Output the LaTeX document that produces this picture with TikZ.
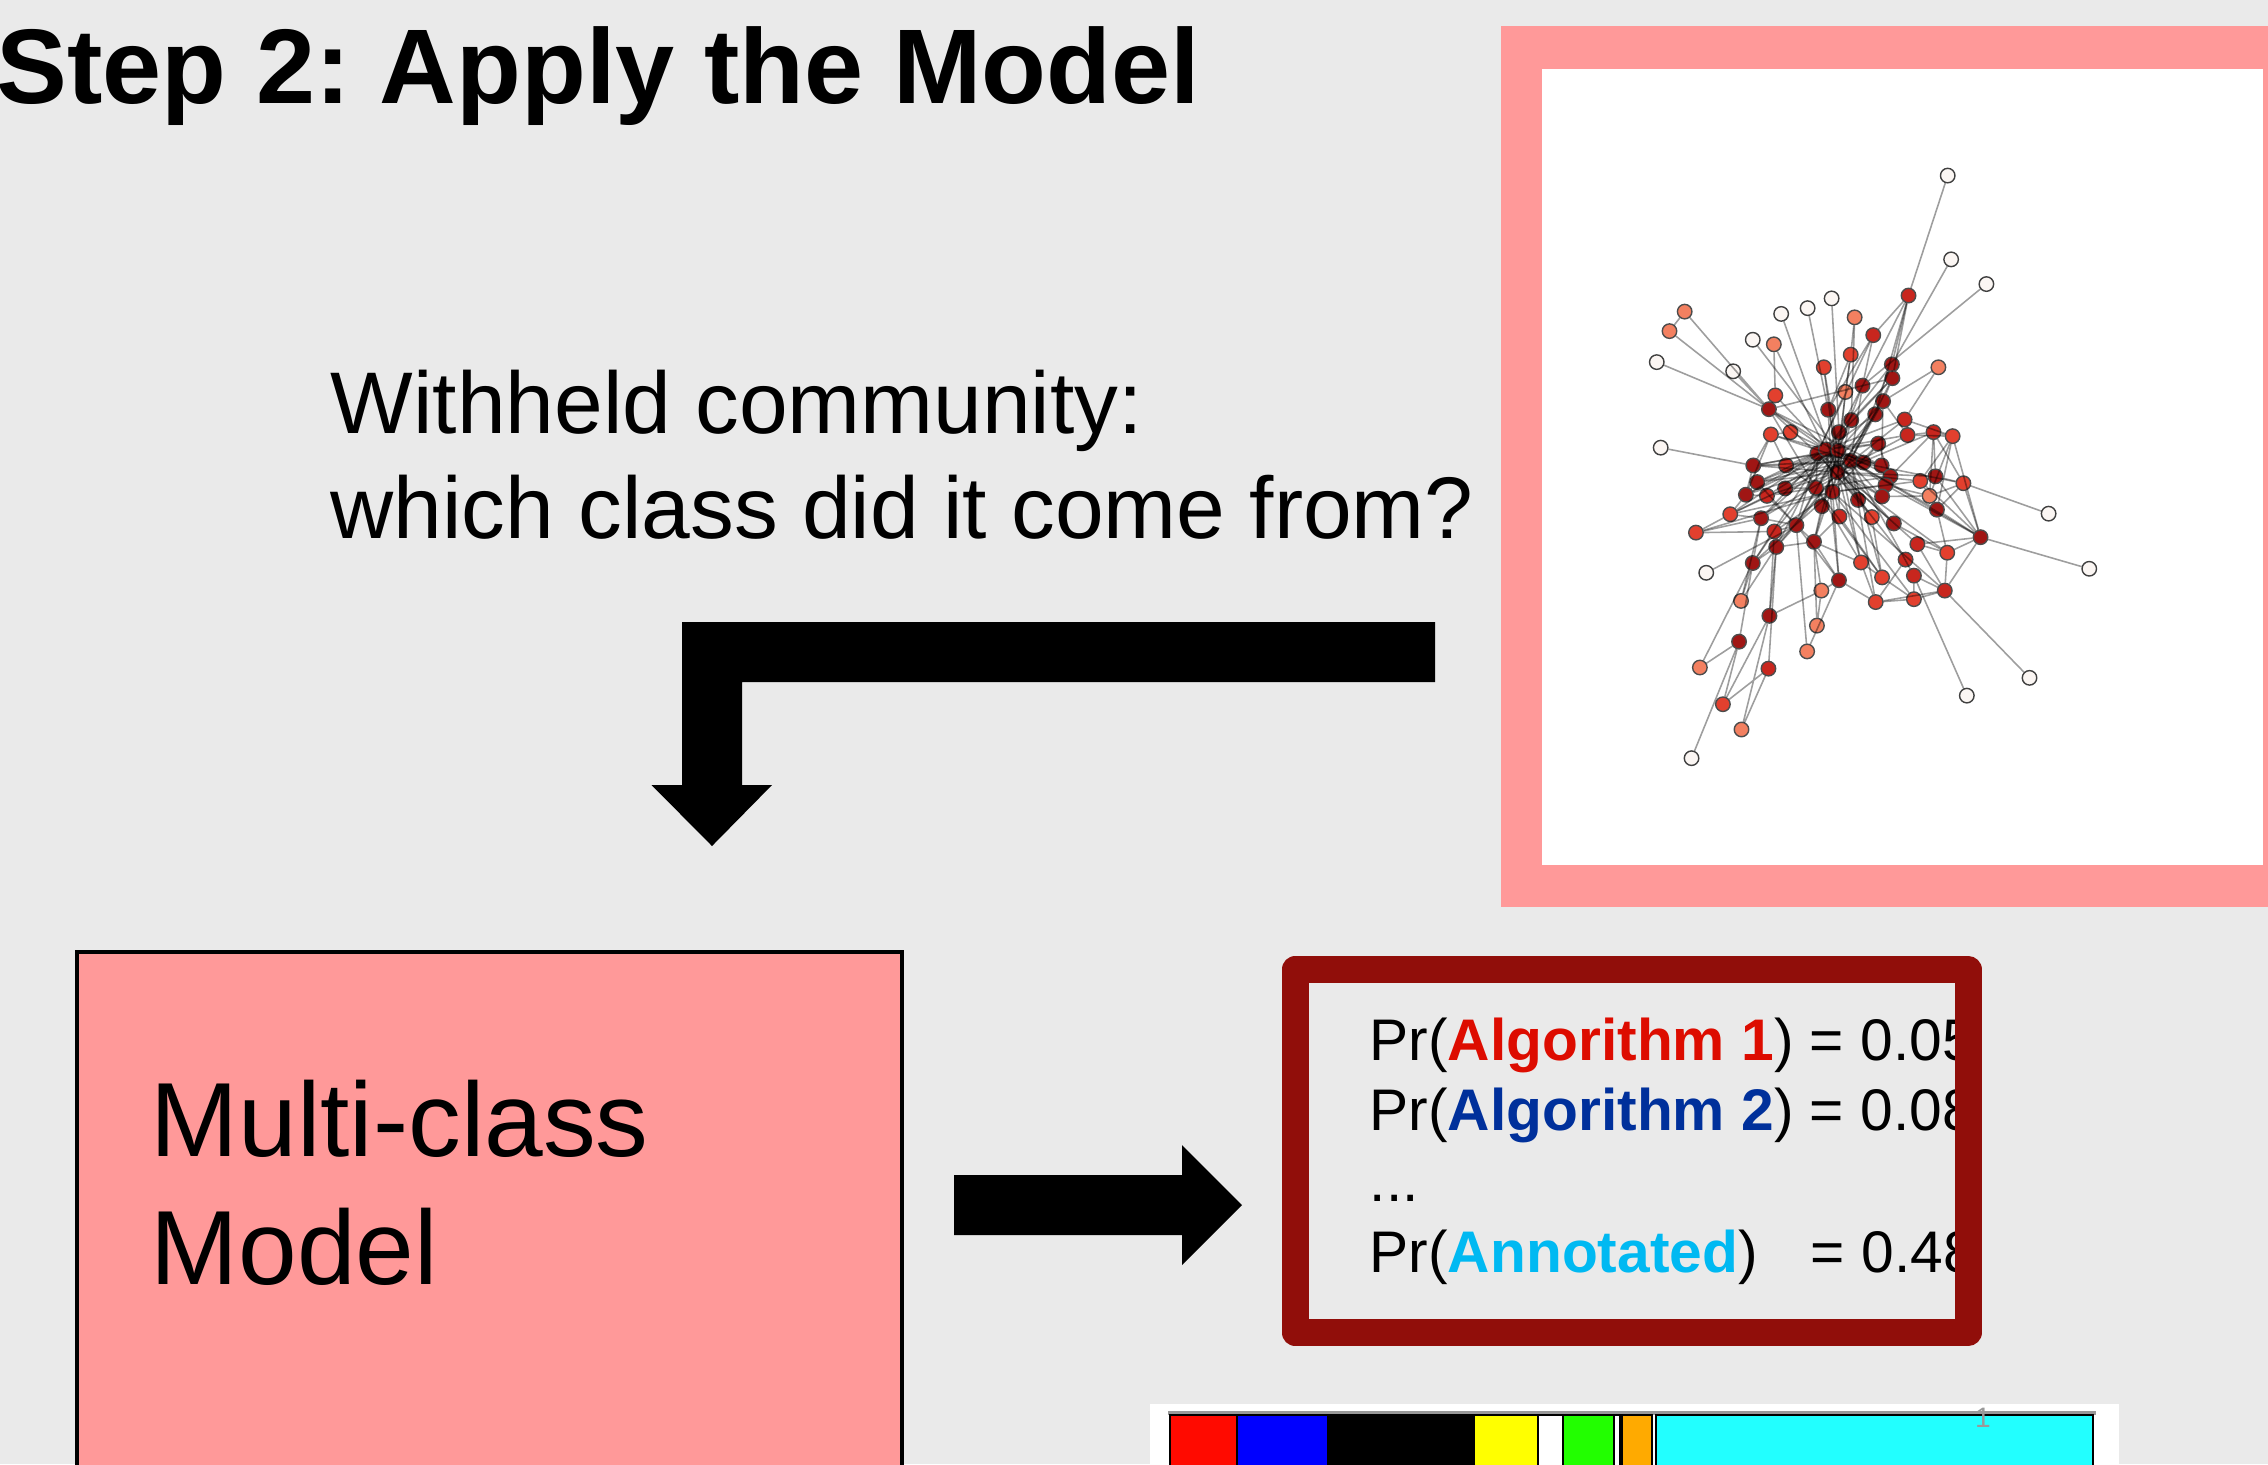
\documentclass[tikz,border=0pt]{standalone}
\usepackage{fontspec}
\setmainfont{Liberation Sans}
\usepackage{tikz}
\usepackage{xcolor}
\definecolor{slidebg}{RGB}{234,234,234}
\definecolor{framepink}{RGB}{255,153,153}
\definecolor{probred}{RGB}{145,14,10}
\definecolor{algone}{RGB}{221,12,0}
\definecolor{algtwo}{RGB}{0,48,155}
\definecolor{annot}{RGB}{0,185,242}
\definecolor{cwhite}{RGB}{251,246,243}
\definecolor{csalmon}{RGB}{243,128,96}
\definecolor{cred}{RGB}{226,64,46}
\definecolor{cmid}{RGB}{200,38,30}
\definecolor{cdark}{RGB}{160,22,20}
\tikzset{
	vtx/.style={circle,draw=black!70,line width=0.4pt,minimum size=1.45mm,inner sep=0pt},
	vwhite/.style={vtx,fill=cwhite,draw=black!75},
	vsalmon/.style={vtx,fill=csalmon},
	vred/.style={vtx,fill=cred},
	vmid/.style={vtx,fill=cmid},
	vdark/.style={vtx,fill=cdark},
	link/.style={draw=black,draw opacity=0.38,line width=0.45pt},
	txt/.style={anchor=base west,inner sep=0pt},
	barseg/.style={draw=black,line width=0.5pt}
}
\frenchspacing

\begin{document}
\begin{tikzpicture}[x=0.1mm,y=-0.1mm]
\useasboundingbox (0,0) rectangle (2268,1464);
\clip (0,0) rectangle (2268,1464);
\fill[slidebg] (0,0) rectangle (2268,1464);
%
\node[txt,font=\fontsize{30.2}{36}\selectfont\bfseries] (title) at (-4,103) {Step 2: Apply the Model};
\node[txt,font=\fontsize{24.9}{30}\selectfont] (ask1) at (330,433) {Withheld community:};
\node[txt,font=\fontsize{24.9}{30}\selectfont] (ask2) at (330,538) {which class did it come from?};
%
\fill[black] (1435,622) -- (682,622) -- (682,785) -- (651.5,785) -- (712,846) -- (772,785) -- (742,785) -- (742,682) -- (1435,682) -- cycle;
%
\fill[framepink] (1501,26) rectangle (2290,907);
\fill[white] (1542,69) rectangle (2263,865);
\begin{scope}[shift={(1500,20)},xscale=0.4898,yscale=0.574]
\node[vwhite] (1) at (914,271) {};
\node[vwhite] (2) at (921,417) {};
\node[vwhite] (3) at (993,460) {};
\node[vmid] (4) at (834,480) {};
\node[vsalmon] (5) at (377,508) {};
\node[vsalmon] (6) at (346,542) {};
\node[vwhite] (7) at (574,512) {};
\node[vwhite] (8) at (628,502) {};
\node[vwhite] (9) at (677,485) {};
\node[vsalmon] (10) at (724,518) {};
\node[vwhite] (11) at (516,557) {};
\node[vsalmon] (12) at (559,565) {};
\node[vmid] (13) at (762,549) {};
\node[vwhite] (14) at (320,596) {};
\node[vwhite] (15) at (476,612) {};
\node[vred] (16) at (716,583) {};
\node[vred] (17) at (661,605) {};
\node[vdark] (18) at (800,600) {};
\node[vsalmon] (19) at (895,605) {};
\node[vdark] (20) at (801,624) {};
\node[vdark] (21) at (740,637) {};
\node[vsalmon] (22) at (705,648) {};
\node[vred] (23) at (562,654) {};
\node[vdark] (24) at (782,664) {};
\node[vdark] (25) at (549,678) {};
\node[vdark] (26) at (670,679) {};
\node[vdark] (27) at (766,687) {};
\node[vdark] (28) at (717,697) {};
\node[vmid] (29) at (826,696) {};
\node[vred] (30) at (553,722) {};
\node[vred] (31) at (593,718) {};
\node[vdark] (32) at (692,718) {};
\node[vmid] (33) at (832,723) {};
\node[vmid] (34) at (885,718) {};
\node[vred] (35) at (924,725) {};
\node[vdark] (36) at (772,738) {};
\node[vwhite] (37) at (328,745) {};
\node[vdark] (38) at (648,755) {};
\node[vdark] (39) at (665,748) {};
\node[vdark] (40) at (690,750) {};
\node[vdark] (41) at (716,768) {};
\node[vdark] (42) at (742,771) {};
\node[vdark] (43) at (779,776) {};
\node[vdark] (44) at (517,776) {};
\node[vmid] (45) at (584,776) {};
\node[vdark] (46) at (689,788) {};
\node[vdark] (47) at (525,805) {};
\node[vdark] (48) at (797,795) {};
\node[vdark] (49) at (787,810) {};
\node[vred] (50) at (858,803) {};
\node[vdark] (51) at (889,795) {};
\node[vred] (52) at (946,807) {};
\node[vdark] (53) at (502,827) {};
\node[vmid] (54) at (545,829) {};
\node[vdark] (55) at (582,816) {};
\node[vdark] (56) at (645,815) {};
\node[vdark] (57) at (679,822) {};
\node[vdark] (58) at (731,836) {};
\node[vdark] (59) at (780,830) {};
\node[vsalmon] (60) at (877,829) {};
\node[vdark] (61) at (657,847) {};
\node[vred] (62) at (470,861) {};
\node[vdark] (63) at (533,868) {};
\node[vmid] (64) at (693,865) {};
\node[vred] (65) at (759,866) {};
\node[vdark] (66) at (892,853) {};
\node[vdark] (67) at (605,880) {};
\node[vdark] (68) at (804,877) {};
\node[vred] (69) at (400,893) {};
\node[vmid] (70) at (560,891) {};
\node[vdark] (71) at (564,918) {};
\node[vdark] (72) at (641,909) {};
\node[vmid] (73) at (852,913) {};
\node[vdark] (74) at (981,901) {};
\node[vred] (75) at (913,928) {};
\node[vwhite] (76) at (421,963) {};
\node[vdark] (77) at (516,946) {};
\node[vred] (78) at (737,945) {};
\node[vmid] (79) at (828,940) {};
\node[vmid] (80) at (845,968) {};
\node[vred] (81) at (780,971) {};
\node[vdark] (82) at (692,976) {};
\node[vsalmon] (83) at (656,994) {};
\node[vsalmon] (84) at (492,1012) {};
\node[vred] (85) at (767,1014) {};
\node[vred] (86) at (845,1009) {};
\node[vmid] (87) at (908,994) {};
\node[vwhite] (88) at (1120,860) {};
\node[vwhite] (89) at (1203,956) {};
\node[vdark] (90) at (550,1038) {};
\node[vsalmon] (91) at (647,1055) {};
\node[vdark] (92) at (488,1083) {};
\node[vsalmon] (93) at (627,1100) {};
\node[vsalmon] (94) at (408,1128) {};
\node[vmid] (95) at (548,1130) {};
\node[vwhite] (96) at (1081,1146) {};
\node[vwhite] (97) at (953,1177) {};
\node[vred] (98) at (455,1192) {};
\node[vsalmon] (99) at (493,1236) {};
\node[vwhite] (100) at (391,1286) {};
%
\begin{scope}[link]
\draw (1) to (4) to (18);
\draw (2) to (18);
\draw (3) to (21);
\draw (4) to (20) to (41);
\draw (4) to (27);
\draw (4) to (13);
\draw (4) to (32);
\draw (5) to (6) to (25) to (14);
\draw (5) to (25) to (15);
\draw (11) to (40);
\draw (7) to (46);
\draw (8) to (26) to (57);
\draw (9) to (32) to (46);
\draw (12) to (23) to (25);
\draw (12) to (39);
\draw (10) to (16) to (40);
\draw (10) to (28);
\draw (19) to (24);
\draw (19) to (29);
\draw (37) to (44);
\draw (88) to (52);
\draw (89) to (74);
\draw (96) to (87);
\draw (97) to (80);
\draw (100) to (92) to (94);
\draw (92) to (77);
\draw (94) to (77);
\draw (98) to (92);
\draw (98) to (95) to (99) to (90) to (98);
\draw (84) to (77);
\draw (84) to (63);
\draw (84) to (71);
\draw (76) to (67);
\draw (69) to (62) to (53);
\draw (69) to (70);
\draw (69) to (63);
\draw (83) to (72);
\draw (83) to (82);
\draw (83) to (91) to (72);
\draw (83) to (90);
\draw (93) to (67);
\draw (93) to (82);
\draw (95) to (71);
\draw (90) to (70);
%
\draw (40) edge (17) edge (21) edge (26) edge (28) edge (32) edge (24) edge (36) edge (42) edge (43) edge (44) edge (47) edge (53) edge (54) edge (55) edge (56) edge (61) edge (63) edge (67) edge (70) edge (72) edge (78) edge (58) edge (48) edge (49) edge (59) edge (64);
\draw (39) edge (25) edge (30) edge (31) edge (23) edge (20) edge (18) edge (27) edge (29) edge (33) edge (36) edge (43) edge (45) edge (53) edge (62) edge (63) edge (71) edge (77) edge (82) edge (64) edge (65) edge (68);
\draw (46) edge (22) edge (24) edge (27) edge (29) edge (33) edge (34) edge (44) edge (47) edge (50) edge (51) edge (54) edge (59) edge (63) edge (67) edge (68) edge (71) edge (72) edge (73) edge (75) edge (78) edge (79);
\draw (41) edge (18) edge (21) edge (25) edge (30) edge (44) edge (45) edge (47) edge (52) edge (53) edge (55) edge (66) edge (74) edge (80) edge (81) edge (85);
\draw (57) edge (24) edge (28) edge (36) edge (49) edge (50) edge (62) edge (69) edge (70) edge (77) edge (82) edge (86) edge (87);
\draw (38) edge (22) edge (13) edge (25) edge (44) edge (47) edge (56) edge (58) edge (65) edge (67) edge (43) edge (59);
\draw (56) edge (45) edge (55) edge (54) edge (61) edge (67) edge (42) edge (27) edge (48) edge (78) edge (81);
\draw (74) edge (35) edge (51) edge (50) edge (52) edge (66) edge (75) edge (87) edge (73) edge (49);
\draw (75) edge (66) edge (68) edge (73) edge (87);
\draw (87) edge (73) edge (80) edge (85) edge (86);
\draw (86) edge (85) edge (81) edge (80);
\draw (85) edge (78) edge (82) edge (79);
\draw (81) edge (78) edge (64) edge (65);
\draw (35) edge (34) edge (33) edge (29) edge (50) edge (60) edge (66);
\draw (34) edge (33) edge (51) edge (48) edge (60);
\draw (52) edge (51) edge (60) edge (66) edge (34);
\draw (60) edge (50) edge (49) edge (59);
\draw (67) edge (63) edge (70) edge (71) edge (72) edge (54) edge (47) edge (82);
\draw (72) edge (64) edge (82) edge (61) edge (71) edge (78);
\draw (62) edge (63) edge (54) edge (55);
\draw (53) edge (44) edge (47) edge (54) edge (30);
\draw (44) edge (47) edge (30) edge (45);
\draw (30) edge (31) edge (45);
\draw (77) edge (71) edge (70) edge (63);
\draw (90) edge (71);
\draw (13) edge (26) edge (21);
\draw (20) edge (18) edge (24) edge (28);
\draw (16) edge (26) edge (22);
\draw (17) edge (46);
\draw (24) edge (27) edge (33) edge (43);
\draw (36) edge (48) edge (42);
\draw (29) edge (33);
\draw (25) edge (56) edge (43) edge (20);
\end{scope}
\end{scope}
%
\draw[fill=framepink,line width=1.3pt] (77,952) rectangle (902,1530);
\node[txt,font=\fontsize{30}{36}\selectfont] (mc1) at (150,1156) {Multi-class};
\node[txt,font=\fontsize{30}{36}\selectfont] (mc2) at (150,1284) {Model};
%
\fill[black] (954,1175) -- (1182,1175) -- (1182,1145) -- (1242,1205) -- (1182,1265) -- (1182,1235) -- (954,1235) -- cycle;
%
\begin{scope}
\clip (1308,983) rectangle (1955,1319);
\node[txt,font=\fontsize{16.7}{20}\selectfont] (p1) at (1369,1060) {Pr(\textcolor{algone}{\bfseries Algorithm 1}) = 0.05};
\node[txt,font=\fontsize{16.7}{20}\selectfont] (p2) at (1369,1130) {Pr(\textcolor{algtwo}{\bfseries Algorithm 2}) = 0.08};
\node[txt,font=\fontsize{16.7}{20}\selectfont] (pdots) at (1369,1201) {...};
\node[txt,font=\fontsize{16.7}{20}\selectfont] (p4) at (1369,1272) {Pr(\textcolor{annot}{\bfseries Annotated})\hspace{3.7mm} = 0.48};
\end{scope}
\draw[draw=probred,line width=2.7mm,line join=round] (1295,969.5) rectangle (1968,1332.5);
%
\fill[white] (1150,1404) rectangle (2119,1480);
\fill[black!40] (1168,1411) rectangle (2096,1415);
\draw[barseg,fill={rgb,255:red,255;green,10;blue,0}] (1170,1415) rectangle (1237,1490);
\draw[barseg,fill={rgb,255:red,0;green,0;blue,255}] (1237,1415) rectangle (1328,1490);
\draw[barseg,fill=black] (1328,1415) rectangle (1474,1490);
\draw[barseg,fill={rgb,255:red,255;green,255;blue,0}] (1474,1415) rectangle (1538,1490);
\draw[barseg,fill=white] (1538,1415) rectangle (1563,1490);
\draw[barseg,fill={rgb,255:red,34;green,255;blue,0}] (1563,1415) rectangle (1614,1490);
\draw[barseg,fill=white] (1614,1415) rectangle (1620,1490);
\draw[barseg,fill={rgb,255:red,255;green,170;blue,0}] (1622,1415) rectangle (1652,1490);
\draw[barseg,fill={rgb,255:red,34;green,255;blue,255}] (1656,1415) rectangle (2093,1490);
\node[font=\fontsize{8}{9}\selectfont,text=black!40] (pagenum) at (1983,1418) {1};
\end{tikzpicture}
\end{document}
